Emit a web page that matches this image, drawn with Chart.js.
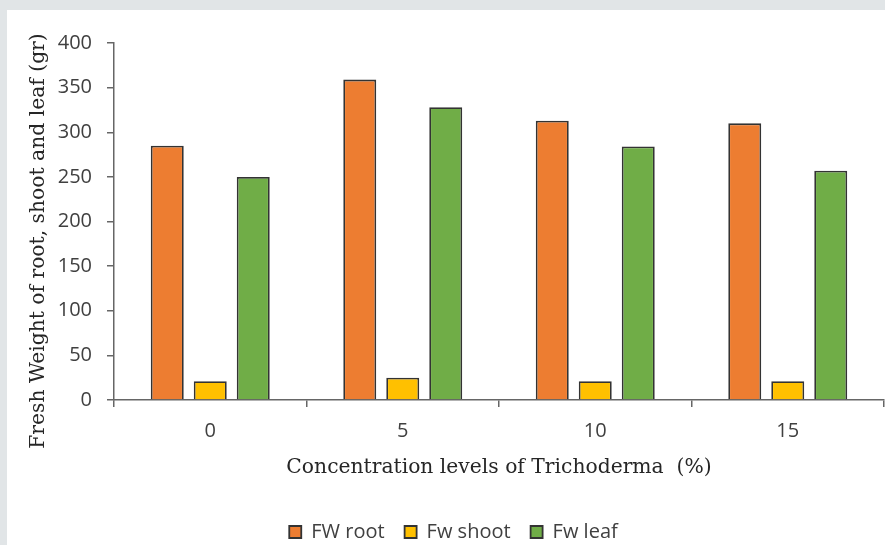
<!DOCTYPE html>
<html>
<head>
<meta charset="utf-8">
<script src="https://cdn.jsdelivr.net/npm/chart.js@4.4.0/dist/chart.umd.min.js"></script>
<style>
  html, body { margin: 0; padding: 0; }
  body { width: 885px; height: 545px; background: #e1e5e7; position: relative; overflow: hidden; }
  #panel { position: absolute; left: 7px; top: 10px; width: 878px; height: 535px; background: #ffffff; }
</style>
</head>
<body>
<div id="panel"><canvas id="chart" width="878" height="535"></canvas></div>
<script>
const categories = ['0', '5', '10', '15'];
const fwRoot = [285, 359, 313, 310];
const fwShoot = [21, 25, 21, 21];
const fwLeaf = [250, 328, 284, 257];
const seriesNames = ['FW root', 'Fw shoot', 'Fw leaf'];
const yTicks = [0, 50, 100, 150, 200, 250, 300, 350, 400];

const axisColor = '#666666';
const textColor = '#404040';
const titleFont = '"DejaVu Serif"';

// y title drawn separately so it can sit where the original puts it
const yTitlePlugin = {
    id: 'yTitle',
    afterDraw(chart) {
        const ctx = chart.ctx;
        ctx.save();
        ctx.translate(32, 231);
        ctx.rotate(-Math.PI / 2);
        ctx.font = '20.3px ' + titleFont;
        ctx.fillStyle = '#262626';
        ctx.textAlign = 'center';
        ctx.textBaseline = 'middle';
        ctx.fillText('Fresh Weight of root, shoot and leaf (gr)', 0, 0);
        ctx.restore();
    }
};

const ctx = document.getElementById('chart').getContext('2d');

new Chart(ctx, {
    type: 'bar',
    data: {
        labels: categories,
        datasets: [
            { label: seriesNames[0], data: fwRoot, backgroundColor: '#ed7d31' },
            { label: seriesNames[1], data: fwShoot, backgroundColor: '#ffc000' },
            { label: seriesNames[2], data: fwLeaf, backgroundColor: '#70ad47' }
        ]
    },
    options: {
        responsive: false,
        animation: false,
        categoryPercentage: 0.67,
        barPercentage: 0.767,
        datasets: {
            bar: { borderColor: '#333333', borderWidth: 1.8 }
        },
        layout: { padding: { top: 33, right: 1, bottom: -7, left: 16 } },
        plugins: {
            tooltip: { enabled: false },
            legend: {
                position: 'bottom',
                labels: {
                    boxWidth: 12,
                    boxHeight: 12,
                    padding: 20,
                    color: '#404040',
                    font: { family: '"Open Sans"', size: 20 }
                }
            }
        },
        scales: {
            x: {
                grid: {
                    drawOnChartArea: false,
                    drawTicks: true,
                    tickLength: 7,
                    color: axisColor,
                    lineWidth: 1.5
                },
                border: { color: axisColor, width: 1.5 },
                ticks: {
                    padding: 12,
                    color: textColor,
                    font: { family: '"Open Sans"', size: 20 }
                },
                title: {
                    display: true,
                    text: 'Concentration levels of Trichoderma  (%)',
                    color: '#262626',
                    font: { family: titleFont, size: 20.3 },
                    padding: { top: 0, bottom: 22 }
                },
                afterFit(scale) { scale.height = 102; }
            },
            y: {
                min: 0,
                max: 400,
                afterBuildTicks(scale) { scale.ticks = yTicks.map(v => ({ value: v })); },
                grid: {
                    drawOnChartArea: false,
                    drawTicks: true,
                    tickLength: 7,
                    color: axisColor,
                    lineWidth: 1.5
                },
                border: { color: axisColor, width: 1.5 },
                ticks: {
                    padding: 15,
                    color: textColor,
                    font: { family: '"Open Sans"', size: 20 }
                },
                afterFit(scale) { scale.width = 91; }
            }
        }
    },
    plugins: [yTitlePlugin]
});
</script>
</body>
</html>
